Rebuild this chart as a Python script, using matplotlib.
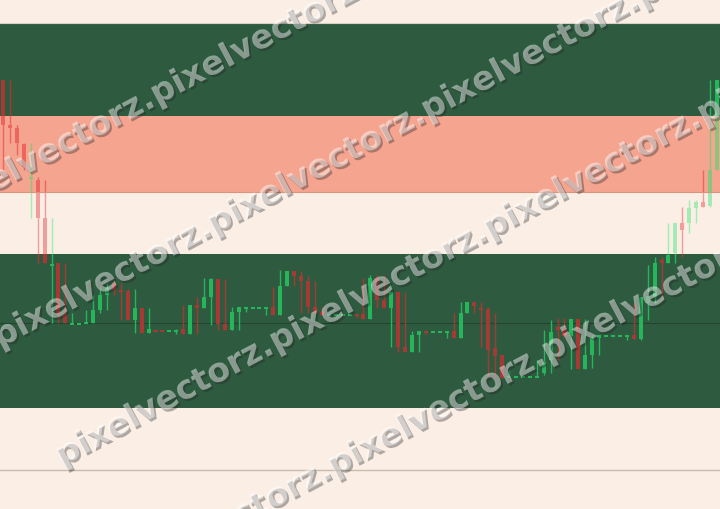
import numpy as np
import matplotlib.pyplot as plt
import matplotlib.patheffects as pe

# candle data (price units)
opens = [429, 384, 381, 365, 331, 329, 291, 244, 246, 195, 185, 185, 186, 186, 199, 214, 226, 220, 218, 189,
         201, 176, 179, 179, 178, 178, 180, 175, 204, 201, 212, 230, 185, 179, 197, 201, 201, 201, 201, 202,
         194, 223, 238, 233, 228, 202, 197, 194, 194, 194, 194, 195, 195, 190, 231, 209, 201, 217, 162, 157,
         174, 178, 177, 177, 177, 178, 171, 196, 207, 202, 200, 161, 154, 132, 132, 132, 132, 132, 136, 149,
         182, 180, 173, 190, 140, 154, 171, 173, 173, 173, 173, 174, 170, 206, 212, 249, 246, 256, 286, 286,
         301, 307, 303, 339]
highs = [429, 429, 384, 366, 366, 332, 329, 291, 246, 246, 196, 186, 199, 214, 222, 226, 226, 226, 220, 220,
         201, 201, 179, 179, 179, 180, 204, 204, 212, 231, 231, 230, 230, 202, 202, 202, 202, 202, 202, 222,
         239, 238, 238, 238, 233, 228, 202, 195, 195, 195, 195, 195, 231, 234, 234, 234, 217, 217, 217, 178,
         178, 178, 178, 178, 178, 196, 207, 207, 207, 207, 202, 196, 154, 139, 133, 133, 133, 149, 179, 189,
         191, 191, 190, 190, 190, 174, 174, 174, 174, 174, 174, 206, 212, 244, 252, 252, 286, 286, 302, 309,
         309, 339, 429, 429]
lows = [339, 366, 354, 339, 291, 246, 246, 186, 186, 186, 185, 185, 186, 186, 196, 199, 214, 189, 189, 176,
        176, 176, 178, 178, 178, 175, 175, 175, 175, 201, 184, 179, 179, 179, 179, 197, 201, 201, 194, 194,
        194, 223, 223, 196, 196, 196, 194, 194, 194, 194, 194, 191, 190, 190, 201, 201, 162, 157, 157, 157,
        157, 175, 177, 177, 171, 171, 171, 196, 196, 162, 131, 131, 131, 132, 132, 132, 132, 132, 134, 136,
        149, 172, 140, 140, 140, 141, 154, 173, 173, 173, 169, 170, 169, 189, 206, 212, 246, 246, 252, 276,
        286, 302, 302, 339]
closes = [384, 381, 366, 342, 332, 291, 246, 246, 196, 186, 186, 186, 187, 199, 214, 221, 219, 218, 189, 201,
          176, 180, 178, 178, 179, 180, 175, 204, 201, 212, 230, 185, 179, 197, 202, 202, 202, 202, 202, 194,
          223, 238, 233, 228, 202, 196, 194, 195, 195, 195, 195, 194, 190, 231, 209, 201, 217, 162, 157, 174,
          178, 177, 178, 178, 178, 171, 196, 207, 203, 200, 159, 153, 131, 133, 133, 133, 133, 134, 147, 177,
          179, 173, 190, 140, 154, 171, 174, 174, 174, 174, 174, 170, 212, 213, 246, 246, 254, 286, 279, 301,
          307, 302, 339, 429]

# horizontal zones (price ranges)
zones = [(101, 255, '#2e5b3f'), (255, 317, '#faeee5'), (317, 393, '#f4a48f'), (393, 486, '#2e5b3f')]
zone_fade = [0.35, 0.6, 0.5, 0.35]
mid_level = 186
low_level = 39

# watermark rows: where one "pixelvectorz." starts (pixels from top-left),
# and how many copies run on to the left of that point
wm_word = 'pixelvectorz.'
wm_rows = [(-57, 219, 1), (0, 348, 0), (62, 466, 0), (120, 590, 2)]
wm_angle = 28

BG = '#faeee5'
UP = '#24e66c'
DOWN = '#e6282d'

W, H = 720, 509
fig = plt.figure(figsize=(W / 100, H / 100), dpi=100)
fig.patch.set_facecolor(BG)
ax = fig.add_axes([0, 0, 1, 1])
ax.set_facecolor(BG)

n = len(opens)
x = np.arange(n)
o = np.array(opens, float)
h = np.array(highs, float)
l = np.array(lows, float)
c = np.array(closes, float)
up = c >= o
cols = np.where(up, UP, DOWN)

for lo, hi, col in zones:
    ax.axhspan(lo, hi, color=col, lw=0, zorder=0)

ax.axhline(mid_level, color='#1c3a28', lw=0.8, zorder=1)
ax.axhline(low_level, color='#c9bcae', lw=1.0, zorder=1)

# candles
ax.vlines(x, l, h, colors=cols, lw=1.0, zorder=2)
body_lo = np.minimum(o, c)
flat = np.abs(c - o) < 2.2
body_h = np.where(flat, 2.2, np.abs(c - o))
ax.bar(x, body_h, bottom=body_lo - np.where(flat, 1.1, 0), width=0.58,
       color=cols, lw=0, zorder=2)

# zone tint on top of the candles
for (lo, hi, col), a in zip(zones, zone_fade):
    ax.axhspan(lo, hi, color=col, alpha=a, lw=0, zorder=3)
ax.axhline(317, color='#d99480', lw=0.8, zorder=3)
ax.axhline(486, color='#d9d0c4', lw=0.8, zorder=3)

ax.set_xlim(-0.433, n - 1 + 0.433)
ax.set_ylim(0, 509)
ax.axis('off')

# watermark
wm_style = dict(fontsize=24, fontweight='bold', color='white', alpha=0.45, zorder=5,
                ha='left', va='baseline', rotation=wm_angle, rotation_mode='anchor',
                path_effects=[pe.withSimplePatchShadow(offset=(1.5, -1.5),
                                                      shadow_rgbFace='#222222', alpha=0.35)])
renderer = fig.canvas.get_renderer()
probe = fig.text(0, 0, wm_word * 4, fontsize=24, fontweight='bold')
word_w = probe.get_window_extent(renderer).width / 4
probe.remove()

ca, sa = np.cos(np.radians(wm_angle)), np.sin(np.radians(wm_angle))
for px, py, k in wm_rows:
    sx = px - k * word_w * ca
    sy = py + k * word_w * sa
    fig.text(sx / W, 1 - sy / H, wm_word * 6, **wm_style)

fig.savefig('out.png', dpi=100, facecolor=BG)
